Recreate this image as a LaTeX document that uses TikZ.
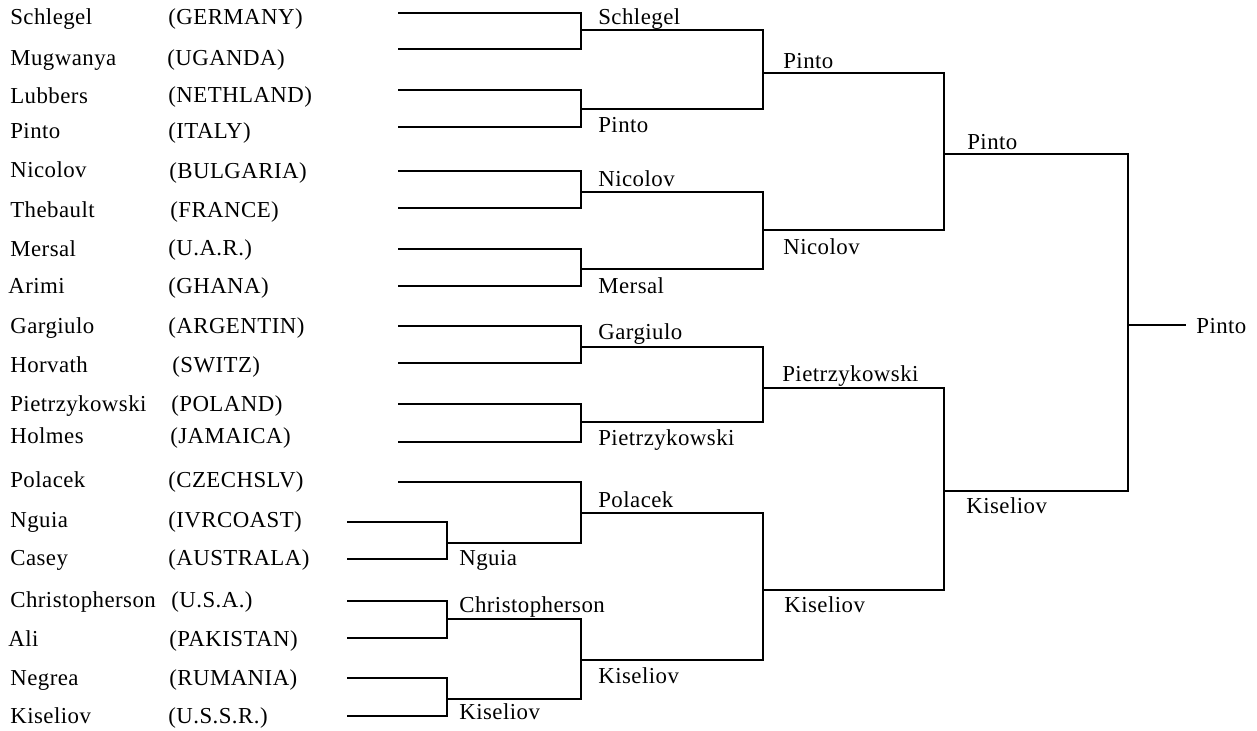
\documentclass[tikz,border=0pt]{standalone}
\usepackage{fontspec}
\setmainfont{Liberation Serif}[LetterSpace=2]
\usepackage{tikz}

\begin{document}
\begin{tikzpicture}[
    x=0.02cm, y=-0.02cm,
    bracket/.style={line width=1.15pt, line join=miter},
    player/.style={anchor=base west, inner sep=0pt, font=\fontsize{13pt}{15pt}\selectfont},
    nation/.style={player},
    winner/.style={player},
]
\useasboundingbox (0,0) rectangle (1257,730);

% entrants
\node[player] (pSchlegel) at (10,24) {Schlegel};             \node[nation] (cSchlegel) at (168,25) {(GERMANY)};
\node[player] (pMugwanya) at (10,65) {Mugwanya};             \node[nation] (cMugwanya) at (167,65) {(UGANDA)};
\node[player] (pLubbers) at (10,103) {Lubbers};              \node[nation] (cLubbers) at (168,102) {(NETHLAND)};
\node[player] (pPinto) at (10,138) {Pinto};                  \node[nation] (cPinto) at (168,138) {(ITALY)};
\node[player] (pNicolov) at (10,177) {Nicolov};              \node[nation] (cNicolov) at (169,178) {(BULGARIA)};
\node[player] (pThebault) at (10,217) {Thebault};            \node[nation] (cThebault) at (170,217) {(FRANCE)};
\node[player] (pMersal) at (10,256) {Mersal};                \node[nation] (cMersal) at (168,255) {(U.A.R.)};
\node[player] (pArimi) at (8,293) {Arimi};                   \node[nation] (cArimi) at (168,293) {(GHANA)};
\node[player] (pGargiulo) at (10,333) {Gargiulo};            \node[nation] (cGargiulo) at (168,333) {(ARGENTIN)};
\node[player] (pHorvath) at (10,372) {Horvath};              \node[nation] (cHorvath) at (172,372) {(SWITZ)};
\node[player] (pPietrzykowski) at (10,411) {Pietrzykowski};  \node[nation] (cPietrzykowski) at (171,411) {(POLAND)};
\node[player] (pHolmes) at (10,443) {Holmes};                \node[nation] (cHolmes) at (170,443) {(JAMAICA)};
\node[player] (pPolacek) at (10,487) {Polacek};              \node[nation] (cPolacek) at (168,487) {(CZECHSLV)};
\node[player] (pNguia) at (10,527) {Nguia};                  \node[nation] (cNguia) at (168,527) {(IVRCOAST)};
\node[player] (pCasey) at (10,565) {Casey};                  \node[nation] (cCasey) at (168,565) {(AUSTRALA)};
\node[player] (pChristopherson) at (10,607) {Christopherson}; \node[nation] (cChristopherson) at (171,607) {(U.S.A.)};
\node[player] (pAli) at (8,646) {Ali};                       \node[nation] (cAli) at (169,646) {(PAKISTAN)};
\node[player] (pNegrea) at (10,685) {Negrea};                \node[nation] (cNegrea) at (169,685) {(RUMANIA)};
\node[player] (pKiseliov) at (10,723) {Kiseliov};            \node[nation] (cKiseliov) at (168,723) {(U.S.S.R.)};

% line starts
\coordinate (sSchlegel) at (398,13);
\coordinate (sMugwanya) at (398,49);
\coordinate (sLubbers) at (398,90);
\coordinate (sPinto) at (398,127);
\coordinate (sNicolov) at (398,171);
\coordinate (sThebault) at (398,208);
\coordinate (sMersal) at (398,249);
\coordinate (sArimi) at (398,286);
\coordinate (sGargiulo) at (398,326);
\coordinate (sHorvath) at (398,363);
\coordinate (sPietrzykowski) at (398,404);
\coordinate (sHolmes) at (398,442);
\coordinate (sPolacek) at (398,482);
\coordinate (sNguia) at (347,522);
\coordinate (sCasey) at (347,559);
\coordinate (sChristopherson) at (347,601);
\coordinate (sAli) at (347,638);
\coordinate (sNegrea) at (347,678);
\coordinate (sKiseliov) at (347,716);

% junctions
\coordinate (m1) at (581,30);
\coordinate (m2) at (581,109);
\coordinate (m3) at (581,192);
\coordinate (m4) at (581,269);
\coordinate (m5) at (581,347);
\coordinate (m6) at (581,422);
\coordinate (m7) at (447,543);
\coordinate (m8) at (447,619);
\coordinate (m9) at (447,699);
\coordinate (m10) at (581,513);
\coordinate (m11) at (581,660);
\coordinate (n1) at (763,73);
\coordinate (n2) at (763,230);
\coordinate (n3) at (763,388);
\coordinate (n4) at (763,590);
\coordinate (q1) at (944,154);
\coordinate (q2) at (944,491);
\coordinate (fin) at (1128,325);
\coordinate (fend) at (1186,325);

\draw[bracket] (sSchlegel) -| (m1) |- (sMugwanya);
\draw[bracket] (sLubbers) -| (m2) |- (sPinto);
\draw[bracket] (sNicolov) -| (m3) |- (sThebault);
\draw[bracket] (sMersal) -| (m4) |- (sArimi);
\draw[bracket] (sGargiulo) -| (m5) |- (sHorvath);
\draw[bracket] (sPietrzykowski) -| (m6) |- (sHolmes);
\draw[bracket] (sNguia) -| (m7) |- (sCasey);
\draw[bracket] (sChristopherson) -| (m8) |- (sAli);
\draw[bracket] (sNegrea) -| (m9) |- (sKiseliov);
\draw[bracket] (sPolacek) -| (m10) |- (m7);
\draw[bracket] (m8) -| (m11) |- (m9);
\draw[bracket] (m1) -| (n1) |- (m2);
\draw[bracket] (m3) -| (n2) |- (m4);
\draw[bracket] (m5) -| (n3) |- (m6);
\draw[bracket] (m10) -| (n4) |- (m11);
\draw[bracket] (n1) -| (q1) |- (n2);
\draw[bracket] (n3) -| (q2) |- (n4);
\draw[bracket] (q1) -| (fin) |- (q2);
\draw[bracket] (fin) -- (fend);

% winners
\node[winner] (w1) at (598,24) {Schlegel};
\node[winner] (w2) at (598,132) {Pinto};
\node[winner] (w3) at (598,186) {Nicolov};
\node[winner] (w4) at (598,293) {Mersal};
\node[winner] (w5) at (598,339) {Gargiulo};
\node[winner] (w6) at (598,445) {Pietrzykowski};
\node[winner] (w7) at (459,565) {Nguia};
\node[winner] (w8) at (459,612) {Christopherson};
\node[winner] (w9) at (459,719) {Kiseliov};
\node[winner] (w10) at (598,507) {Polacek};
\node[winner] (w11) at (598,683) {Kiseliov};
\node[winner] (w12) at (783,68) {Pinto};
\node[winner] (w13) at (783,254) {Nicolov};
\node[winner] (w14) at (782,381) {Pietrzykowski};
\node[winner] (w15) at (784,612) {Kiseliov};
\node[winner] (w16) at (967,149) {Pinto};
\node[winner] (w17) at (966,513) {Kiseliov};
\node[winner] (champ) at (1196,333) {Pinto};
\end{tikzpicture}
\end{document}
